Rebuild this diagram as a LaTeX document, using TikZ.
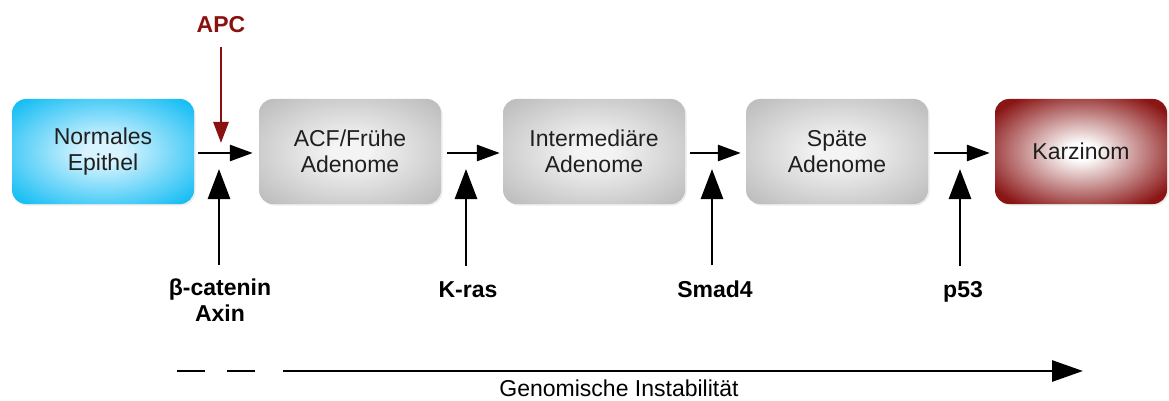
\documentclass[tikz,border=0pt]{standalone}
\usepackage{fontspec}
\setmainfont{Liberation Sans}
\usetikzlibrary{arrows.meta,shadows}
\definecolor{cyanout}{HTML}{16BDF4}
\definecolor{cyanin}{HTML}{D8F4FE}
\definecolor{grayout}{HTML}{BEBEBE}
\definecolor{grayin}{HTML}{F4F4F4}
\definecolor{redout}{HTML}{8A1515}
\definecolor{redin}{HTML}{FFFFFF}
\definecolor{apcred}{HTML}{8B1010}
\pgfdeclareradialshading{cyanrad}{\pgfpoint{0bp}{0bp}}{color(0bp)=(cyanin); color(5bp)=(cyanin); color(33bp)=(cyanout); color(50bp)=(cyanout)}
\pgfdeclareradialshading{grayrad}{\pgfpoint{0bp}{0bp}}{color(0bp)=(grayin); color(5bp)=(grayin); color(33bp)=(grayout); color(50bp)=(grayout)}
\pgfdeclareradialshading{redrad}{\pgfpoint{0bp}{0bp}}{color(0bp)=(redin); color(4bp)=(redin); color(31bp)=(redout); color(50bp)=(redout)}
\tikzset{
  box/.style={rectangle, rounded corners=14pt, minimum width=182pt, minimum height=105pt,
    align=center, inner sep=0pt, font=\fontsize{23}{25.5}\selectfont, text=black!88,
    drop shadow={opacity=0.15, shadow xshift=1.5pt, shadow yshift=-1.5pt}},
  cyanbox/.style={box, shading=cyanrad},
  graybox/.style={box, shading=grayrad},
  redbox/.style={box, shading=redrad},
  harr/.style={line width=2.8pt, -{Triangle[length=23pt,width=16pt]}},
  varr/.style={line width=2.8pt, -{Triangle[length=30pt,width=22pt]}},
  lbl/.style={font=\bfseries\fontsize{23}{26}\selectfont, inner sep=0pt, align=center},
}
\begin{document}
\begin{tikzpicture}[x=1pt,y=-1pt]
\useasboundingbox (0,0) rectangle (1169,401);
\node[cyanbox] (n1) at (103,151.5) {Normales\\Epithel};
\node[graybox] (n2) at (350,151.5) {ACF/Frühe\\Adenome};
\node[graybox] (n3) at (594,151.5) {Intermediäre\\Adenome};
\node[graybox] (n4) at (837,151.5) {Späte\\Adenome};
\node[redbox, minimum width=172pt] (n5) at (1081,151.5) {Karzinom};
% horizontal arrows
\draw[harr, shorten <=4pt, shorten >=6pt] (n1.east |- 0,153) -- (n2.west |- 0,153);
\draw[harr, shorten <=6pt, shorten >=3pt] (n2.east |- 0,153) -- (n3.west |- 0,153);
\draw[harr, shorten <=5pt, shorten >=5pt] (n3.east |- 0,153) -- (n4.west |- 0,153);
\draw[harr, shorten <=6pt, shorten >=5pt] (n4.east |- 0,153) -- (n5.west |- 0,153);
% APC
\node[lbl, text=apcred, anchor=base] (apc) at (221,33) {APC};
\coordinate (ta) at (221,143);
\draw[line width=2.8pt, draw=apcred, fill=apcred, -{Triangle[length=21pt,width=15pt]}, shorten <=14pt] (apc.south) -- (ta);
% bottom labels
\node[lbl, anchor=north] (g1) at (220,279) {β-catenin\\Axin};
\node[lbl, anchor=base] (g2) at (468,297) {K-ras};
\node[lbl, anchor=base] (g3) at (715,297) {Smad4};
\node[lbl, anchor=base] (g4) at (963,297) {p53};
\coordinate (t1) at (219,169);
\coordinate (t2) at (466,169);
\coordinate (t3) at (712,169);
\coordinate (t4) at (960,169);
\draw[varr, shorten <=14pt] (g1.north -| t1) -- (t1);
\draw[varr, shorten <=15pt] (g2.north -| t2) -- (t2);
\draw[varr, shorten <=15pt] (g3.north -| t3) -- (t3);
\draw[varr, shorten <=15pt] (g4.north -| t4) -- (t4);
% genomic instability
\coordinate (d1a) at (177,371);
\coordinate (d1b) at (205,371);
\coordinate (d2a) at (227,371);
\coordinate (d2b) at (255,371);
\coordinate (s0) at (283,371);
\coordinate (s1) at (1083,371);
\draw[line width=2.8pt] (d1a) -- (d1b);
\draw[line width=2.8pt] (d2a) -- (d2b);
\draw[line width=2.8pt, -{Triangle[length=31pt,width=21pt]}] (s0) -- (s1);
\node[anchor=base, font=\fontsize{23}{26}\selectfont, inner sep=0pt] (gi) at (619,396) {Genomische Instabilität};
\end{tikzpicture}
\end{document}
